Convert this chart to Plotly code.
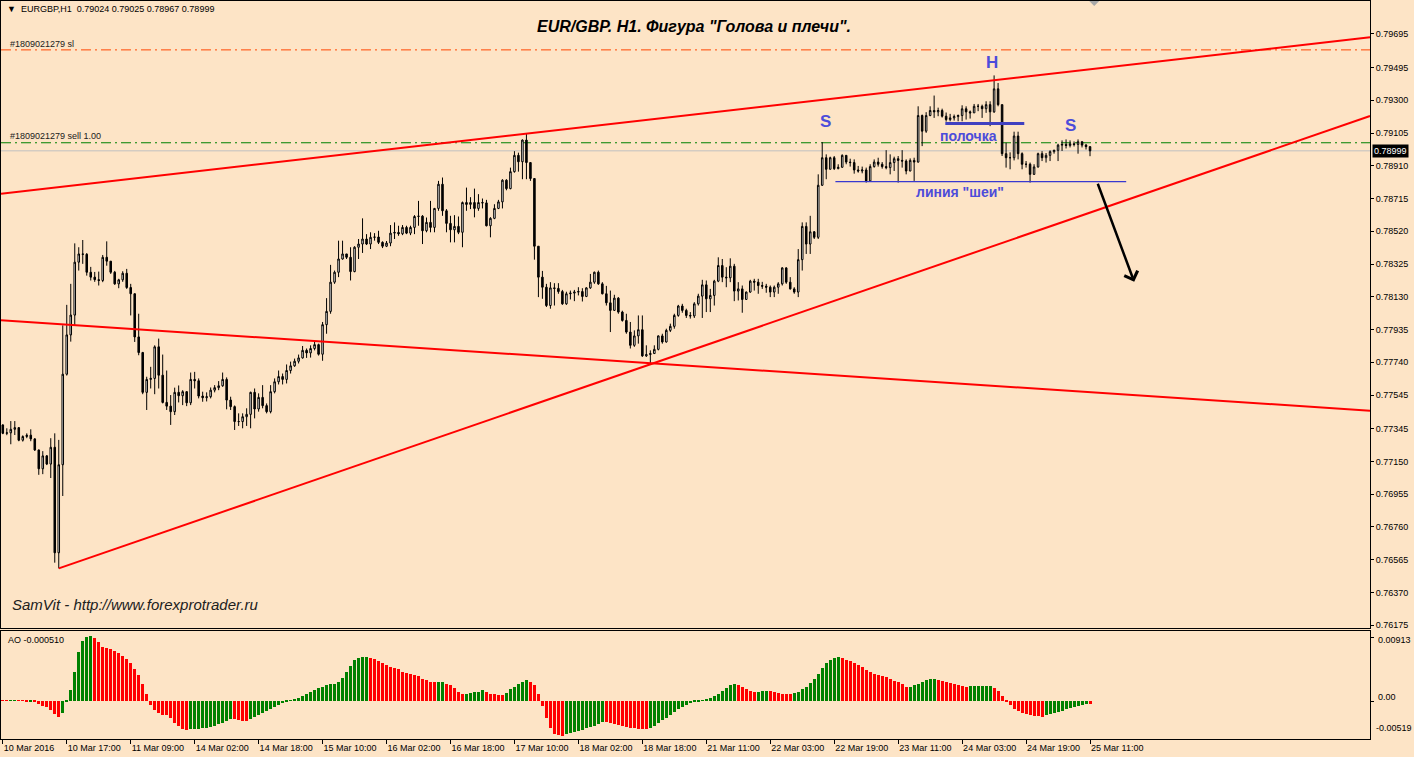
import plotly.graph_objects as go

W, H = 1414, 757
BG = "#FDE4C6"
FONT = "Liberation Sans, Arial, sans-serif"

# ---------------- data (prices in points, 1 point = 0.00001) ----------------
tick_labels = ["10 Mar 2016", "10 Mar 17:00", "11 Mar 09:00", "14 Mar 02:00", "14 Mar 18:00",
               "15 Mar 10:00", "16 Mar 02:00", "16 Mar 18:00", "17 Mar 10:00", "18 Mar 02:00",
               "18 Mar 18:00", "21 Mar 11:00", "22 Mar 03:00", "22 Mar 19:00", "23 Mar 11:00",
               "24 Mar 03:00", "24 Mar 19:00", "25 Mar 11:00"]
tick_bars = [0, 16, 32, 48, 64, 80, 96, 112, 128, 144, 160, 176, 192, 208, 224, 240, 256, 272]

price_ticks = [0.79695, 0.79495, 0.79300, 0.79105, 0.78910, 0.78715, 0.78520, 0.78325, 0.78130,
               0.77935, 0.77740, 0.77545, 0.77345, 0.77150, 0.76955, 0.76760, 0.76565, 0.76370, 0.76175]

close_pts = [
    77317, 77320, 77341, 77351, 77276, 77298, 77306, 77284, 77218, 77106,
    77183, 77134, 77234, 76606, 77130, 77669, 77903, 78021, 78336, 78385,
    78383, 78276, 78247, 78232, 78227, 78365, 78342, 78276, 78207, 78231,
    78270, 78185, 78148, 77891, 77798, 77561, 77638, 77644, 77832, 77663,
    77501, 77479, 77446, 77561, 77541, 77565, 77499, 77638, 77630, 77539,
    77529, 77535, 77574, 77589, 77600, 77638, 77515, 77476, 77387, 77387,
    77416, 77430, 77561, 77462, 77531, 77482, 77446, 77565, 77624, 77655,
    77638, 77691, 77719, 77746, 77766, 77811, 77796, 77822, 77845, 77788,
    77964, 78043, 78217, 78276, 78355, 78385, 78365, 78280, 78425, 78444,
    78474, 78444, 78484, 78486, 78454, 78431, 78450, 78509, 78513, 78505,
    78543, 78509, 78543, 78608, 78610, 78523, 78573, 78543, 78656, 78800,
    78642, 78567, 78529, 78549, 78514, 78691, 78680, 78691, 78656, 78691,
    78689, 78553, 78597, 78656, 78695, 78824, 78774, 78875, 78972, 78934,
    79063, 78929, 78834, 78431, 78247, 78187, 78078, 78183, 78180, 78161,
    78088, 78148, 78152, 78158, 78161, 78132, 78183, 78217, 78276, 78207,
    78148, 78094, 78049, 78122, 78039, 77989, 77920, 77841, 77897, 77934,
    77778, 77786, 77792, 77817, 77897, 77861, 77930, 77954, 78019, 78075,
    78049, 78019, 78016, 78088, 78134, 78201, 78118, 78138, 78223, 78316,
    78247, 78243, 78312, 78164, 78177, 78114, 78158, 78223, 78217, 78197,
    78193, 78187, 78158, 78187, 78207, 78302, 78217, 78177, 78158, 78351,
    78549, 78444, 78517, 78484, 78794, 78958, 78889, 78958, 78893, 78901,
    78972, 78932, 78929, 78885, 78879, 78885, 78820, 78905, 78932, 78919,
    78905, 78899, 78929, 78952, 78942, 78938, 78879, 78942, 78932, 79209,
    79116, 79209, 79239, 79231, 79239, 79205, 79185, 79195, 79203, 79209,
    79249, 79231, 79225, 79264, 79264, 79250, 79274, 79231, 79368, 79274,
    78982, 78958, 78958, 79087, 78982, 78919, 78919, 78859, 78903, 78982,
    78958, 78972, 78994, 79002, 79033, 79037, 79031, 79041, 79037, 79053,
    79033, 79024, 78999]

open_pts = [
    77367, 77317, 77320, 77341, 77351, 77276, 77298, 77306, 77284, 77218,
    77106, 77183, 77134, 77234, 76606, 77130, 77669, 77903, 78021, 78336,
    78385, 78383, 78276, 78247, 78232, 78227, 78365, 78342, 78276, 78207,
    78231, 78270, 78185, 78148, 77891, 77798, 77561, 77638, 77644, 77832,
    77663, 77501, 77479, 77446, 77561, 77541, 77565, 77499, 77638, 77630,
    77539, 77529, 77535, 77574, 77589, 77600, 77638, 77515, 77476, 77387,
    77387, 77416, 77430, 77561, 77462, 77531, 77482, 77446, 77565, 77624,
    77655, 77638, 77691, 77719, 77746, 77766, 77811, 77796, 77822, 77845,
    77788, 77964, 78043, 78217, 78276, 78355, 78385, 78365, 78280, 78425,
    78444, 78474, 78444, 78484, 78486, 78454, 78431, 78450, 78509, 78513,
    78505, 78543, 78509, 78543, 78608, 78610, 78523, 78573, 78543, 78656,
    78800, 78642, 78567, 78529, 78549, 78514, 78691, 78680, 78691, 78656,
    78691, 78689, 78553, 78597, 78656, 78695, 78824, 78774, 78875, 78972,
    78934, 79063, 78929, 78834, 78431, 78247, 78187, 78078, 78183, 78180,
    78161, 78088, 78148, 78152, 78158, 78161, 78132, 78183, 78217, 78276,
    78207, 78148, 78094, 78049, 78122, 78039, 77989, 77920, 77841, 77897,
    77934, 77778, 77786, 77792, 77817, 77897, 77861, 77930, 77954, 78019,
    78075, 78049, 78019, 78016, 78088, 78134, 78201, 78118, 78138, 78223,
    78316, 78247, 78243, 78312, 78164, 78177, 78114, 78158, 78223, 78217,
    78197, 78193, 78187, 78158, 78187, 78207, 78302, 78217, 78177, 78158,
    78351, 78549, 78444, 78517, 78484, 78794, 78958, 78889, 78958, 78893,
    78901, 78972, 78932, 78929, 78885, 78879, 78885, 78820, 78905, 78932,
    78919, 78905, 78899, 78929, 78952, 78942, 78938, 78879, 78942, 78932,
    79209, 79116, 79209, 79239, 79231, 79239, 79205, 79185, 79195, 79203,
    79209, 79249, 79231, 79225, 79264, 79264, 79250, 79274, 79231, 79368,
    79274, 78982, 78958, 78958, 79087, 78982, 78919, 78919, 78859, 78903,
    78982, 78958, 78972, 78994, 79002, 79033, 79037, 79031, 79041, 79037,
    79053, 79033, 79024]

high_pts = [
    77371, 77347, 77390, 77390, 77353, 77305, 77317, 77341, 77288, 77220,
    77211, 77187, 77288, 77317, 77278, 77960, 78082, 78207, 78448, 78425,
    78468, 78390, 78308, 78278, 78280, 78379, 78460, 78343, 78284, 78237,
    78282, 78296, 78207, 78150, 78029, 77802, 77654, 77713, 77841, 77881,
    77786, 77691, 77545, 77589, 77602, 77574, 77568, 77679, 77683, 77644,
    77565, 77561, 77590, 77604, 77628, 77679, 77650, 77535, 77483, 77436,
    77436, 77466, 77565, 77584, 77555, 77604, 77495, 77604, 77644, 77691,
    77673, 77727, 77744, 77762, 77786, 77837, 77822, 77841, 77865, 77851,
    77980, 78122, 78320, 78286, 78464, 78464, 78385, 78425, 78431, 78474,
    78597, 78503, 78514, 78509, 78523, 78460, 78462, 78557, 78573, 78553,
    78557, 78553, 78553, 78616, 78701, 78616, 78602, 78701, 78659, 78820,
    78840, 78652, 78612, 78616, 78608, 78697, 78780, 78723, 78774, 78741,
    78715, 78707, 78604, 78681, 78707, 78830, 78830, 78899, 78997, 78988,
    79067, 79102, 78929, 78834, 78431, 78284, 78207, 78217, 78211, 78211,
    78171, 78160, 78167, 78171, 78187, 78181, 78187, 78266, 78280, 78286,
    78217, 78195, 78167, 78142, 78128, 78047, 78029, 77980, 77930, 78019,
    78019, 77841, 77811, 77841, 77900, 77910, 77940, 77970, 78029, 78082,
    78088, 78059, 78039, 78098, 78148, 78231, 78227, 78177, 78231, 78365,
    78355, 78306, 78359, 78326, 78217, 78197, 78161, 78231, 78237, 78237,
    78219, 78207, 78197, 78197, 78217, 78306, 78306, 78247, 78187, 78414,
    78573, 78573, 78612, 78521, 78859, 79051, 78978, 78964, 78968, 78919,
    78978, 78972, 78952, 78948, 78909, 78905, 78899, 78919, 78948, 78958,
    78932, 79003, 78978, 78964, 78968, 79003, 78948, 78954, 78958, 79264,
    79215, 79229, 79264, 79328, 79256, 79250, 79227, 79219, 79215, 79215,
    79270, 79264, 79239, 79278, 79278, 79274, 79294, 79294, 79448, 79403,
    79274, 79047, 78990, 79113, 79113, 78990, 78938, 78929, 78919, 78988,
    78997, 78986, 79002, 79006, 79041, 79061, 79067, 79061, 79055, 79067,
    79055, 79040, 79025]

low_pts = [
    77312, 77306, 77252, 77307, 77270, 77268, 77288, 77270, 77212, 77070,
    77074, 77128, 77051, 76547, 76513, 76944, 77661, 77863, 77960, 78286,
    78326, 78256, 78227, 78219, 78197, 78217, 78315, 78266, 78201, 78181,
    78219, 78177, 78019, 77861, 77782, 77550, 77456, 77584, 77550, 77584,
    77495, 77456, 77367, 77426, 77501, 77485, 77479, 77485, 77584, 77525,
    77505, 77507, 77525, 77561, 77574, 77594, 77460, 77456, 77337, 77361,
    77347, 77361, 77347, 77406, 77446, 77466, 77436, 77436, 77555, 77608,
    77608, 77614, 77673, 77713, 77733, 77762, 77766, 77768, 77811, 77780,
    77749, 77910, 78029, 78207, 78247, 78351, 78355, 78227, 78276, 78355,
    78391, 78438, 78414, 78464, 78444, 78420, 78426, 78431, 78474, 78493,
    78497, 78503, 78497, 78503, 78553, 78444, 78514, 78514, 78514, 78642,
    78612, 78514, 78454, 78454, 78503, 78425, 78642, 78652, 78603, 78642,
    78656, 78549, 78484, 78592, 78652, 78656, 78764, 78770, 78869, 78875,
    78830, 78830, 78820, 78351, 78128, 78118, 78069, 78059, 78078, 78148,
    78082, 78082, 78114, 78104, 78138, 78102, 78128, 78177, 78207, 78201,
    78144, 78078, 77920, 78047, 78029, 77982, 77910, 77822, 77832, 77851,
    77772, 77772, 77733, 77792, 77811, 77851, 77857, 77920, 77940, 78011,
    78035, 78004, 78000, 78004, 78078, 78004, 78039, 78039, 78078, 78217,
    78217, 78187, 78217, 78104, 78108, 78035, 78114, 78154, 78167, 78148,
    78177, 78154, 78128, 78128, 78148, 78197, 78207, 78173, 78148, 78128,
    78286, 78385, 78385, 78474, 78474, 78790, 78830, 78889, 78885, 78889,
    78899, 78919, 78905, 78863, 78869, 78865, 78810, 78820, 78899, 78905,
    78893, 78889, 78859, 78879, 78810, 78899, 78859, 78877, 78820, 78929,
    79027, 79106, 79205, 79195, 79205, 79197, 79173, 79175, 79179, 79175,
    79175, 79185, 79191, 79225, 79235, 79195, 79225, 79146, 79225, 79264,
    78968, 78899, 78889, 78942, 78948, 78889, 78899, 78810, 78855, 78899,
    78938, 78929, 78938, 78982, 78938, 78998, 79013, 79019, 79025, 78982,
    79019, 79007, 78967]

# Awesome Oscillator histogram, units of 0.00001
ao_pts = [
    -2, -3, -1, 8, -3, -5, -16, -10, -26, -52,
    -73, -98, -130, -186, -228, -171, -26, 155, 404, 699,
    855, 912, 927, 901, 839, 772, 756, 746, 710, 679,
    637, 596, 539, 451, 373, 233, 88, -57, -130, -181,
    -202, -212, -249, -316, -368, -404, -420, -414, -409, -404,
    -399, -389, -373, -357, -337, -316, -290, -264, -269, -285,
    -290, -295, -259, -233, -207, -176, -150, -119, -93, -67,
    -41, -21, -5, 16, 41, 73, 98, 124, 150, 181,
    202, 218, 233, 243, 269, 321, 409, 502, 580, 616,
    627, 632, 606, 591, 570, 539, 513, 487, 461, 451,
    414, 399, 383, 368, 347, 306, 295, 269, 264, 267,
    269, 243, 218, 181, 124, 88, 98, 109, 124, 130,
    150, 124, 98, 88, 78, 75, 109, 166, 192, 233,
    269, 295, 269, 218, 98, -78, -249, -394, -482, -497,
    -508, -482, -466, -451, -435, -420, -399, -378, -357, -337,
    -306, -311, -321, -337, -352, -368, -383, -394, -399, -404,
    -407, -409, -394, -363, -326, -285, -243, -202, -161, -119,
    -88, -62, -41, -26, -16, -5, 10, 36, 67, 98,
    140, 181, 218, 243, 228, 192, 161, 140, 119, 130,
    140, 142, 140, 124, 109, 98, 96, 93, 109, 130,
    161, 202, 254, 316, 389, 461, 534, 585, 611, 622,
    606, 585, 565, 544, 513, 477, 440, 409, 383, 363,
    352, 342, 316, 285, 264, 233, 192, 202, 223, 243,
    269, 295, 306, 311, 295, 280, 264, 249, 233, 218,
    207, 202, 205, 207, 208, 210, 212, 215, 181, 140,
    62, -16, -67, -119, -150, -171, -192, -207, -218, -223,
    -228, -212, -197, -181, -161, -145, -124, -109, -93, -78,
    -62, -49, -51]

# trend lines / objects: (bar index, price in points)
upper_line_bar = [-0.45, 342.05]
upper_line_pts = [78744, 79675]
rising_line_bar = [14, 342.05]
rising_line_pts = [76513, 79206]
falling_line_bar = [-0.45, 342.05]
falling_line_pts = [77990, 77452]
neck_bar = [208.3, 281.05]
neck_pts = [78816, 78816]
shelf_bar = [235.8, 255.55]
shelf_pts = [79162, 79162]
arrow_tail = (273.8, 78812)
arrow_head = (283.05, 78219)
sl_price = 0.79600
entry_price = 0.79047
bid_price = 0.78999

# ---------------- build ----------------
K = 1e-5
bars = list(range(len(close_pts)))
o = [v * K for v in open_pts]
h = [v * K for v in high_pts]
l = [v * K for v in low_pts]
c = [v * K for v in close_pts]
ao = [v * K for v in ao_pts]
ao_colors = ["#FF0000"] + ["#008000" if ao[i] > ao[i - 1] else "#FF0000" for i in range(1, len(ao))]

X_RANGE = [-0.45, 342.05]
X_DOM = [0, 1370 / W]
Y_MAIN = [0.76161, 0.79891]
Y_AO = [-0.005445, 0.009989]

def px(x):
    return x / W

def py(y):
    return 1 - y / H

fig = go.Figure()

fig.add_trace(go.Candlestick(
    x=bars, open=o, high=h, low=l, close=c,
    increasing=dict(line=dict(color="black", width=1), fillcolor="white"),
    decreasing=dict(line=dict(color="black", width=1), fillcolor="black"),
    whiskerwidth=0, xaxis="x", yaxis="y", showlegend=False, hoverinfo="skip"))

for bx, pp, wd, col in [(upper_line_bar, upper_line_pts, 2, "#FF0000"),
                        (rising_line_bar, rising_line_pts, 2, "#FF0000"),
                        (falling_line_bar, falling_line_pts, 2, "#FF0000"),
                        (neck_bar, neck_pts, 1.2, "#3838D0"),
                        (shelf_bar, shelf_pts, 3, "#4040C0")]:
    fig.add_trace(go.Scatter(x=bx, y=[v * K for v in pp], mode="lines",
                             line=dict(color=col, width=wd), xaxis="x", yaxis="y",
                             showlegend=False, hoverinfo="skip"))

fig.add_trace(go.Bar(x=bars, y=ao, marker=dict(color=ao_colors, line=dict(width=0)),
                     width=0.75, xaxis="x2", yaxis="y2", showlegend=False, hoverinfo="skip"))

shapes = [
    dict(type="line", xref="x", yref="y", x0=X_RANGE[0], x1=X_RANGE[1], y0=sl_price, y1=sl_price,
         line=dict(color="#FF4500", width=1, dash="10px,4px,2px,4px"), layer="below"),
    dict(type="line", xref="x", yref="y", x0=X_RANGE[0], x1=X_RANGE[1], y0=entry_price, y1=entry_price,
         line=dict(color="#008000", width=1, dash="10px,4px,2px,4px"), layer="below"),
    dict(type="line", xref="x", yref="y", x0=X_RANGE[0], x1=X_RANGE[1], y0=bid_price, y1=bid_price,
         line=dict(color="#C0C0C0", width=1), layer="below"),
    # small grey chart-shift marker at top
    dict(type="path", xref="paper", yref="paper",
         path=f"M {px(1089)},{py(1)} L {px(1099)},{py(1)} L {px(1094)},{py(6)} Z",
         fillcolor="#A8A8A8", line=dict(width=0)),
]

blue = "#4C4CDA"
ann = [
    dict(text='<b><i>EUR/GBP. H1. Фигура "Голова и плечи".</i></b>', x=px(693), y=py(27),
         xref="paper", yref="paper", showarrow=False,
         font=dict(family=FONT, size=16, color="black"), xanchor="center", yanchor="middle"),
    dict(text="\u25BC  EURGBP,H1  0.79024 0.79025 0.78967 0.78999", x=px(4), y=py(9), xref="paper", yref="paper",
         showarrow=False, font=dict(family=FONT, size=9, color="black"), xanchor="left", yanchor="middle"),
    dict(text="#1809021279 sl", x=px(7), y=py(44), xref="paper", yref="paper",
         showarrow=False, font=dict(family=FONT, size=9, color="#202020"), xanchor="left", yanchor="middle"),
    dict(text="#1809021279 sell 1.00", x=px(7), y=py(137), xref="paper", yref="paper",
         showarrow=False, font=dict(family=FONT, size=9, color="#202020"), xanchor="left", yanchor="middle"),
    dict(text="<i>SamVit - http://www.forexprotrader.ru</i>", x=px(9), y=py(607), xref="paper", yref="paper",
         showarrow=False, font=dict(family=FONT, size=15, color="#202020"), xanchor="left", yanchor="middle"),
    dict(text="<b>S</b>", x=px(825), y=py(122), xref="paper", yref="paper", showarrow=False,
         font=dict(family=FONT, size=17, color=blue), xanchor="center", yanchor="middle"),
    dict(text="<b>H</b>", x=px(992), y=py(63), xref="paper", yref="paper", showarrow=False,
         font=dict(family=FONT, size=17, color=blue), xanchor="center", yanchor="middle"),
    dict(text="<b>S</b>", x=px(1070), y=py(126), xref="paper", yref="paper", showarrow=False,
         font=dict(family=FONT, size=17, color=blue), xanchor="center", yanchor="middle"),
    dict(text="<b>полочка</b>", x=px(968), y=py(137), xref="paper", yref="paper", showarrow=False,
         font=dict(family=FONT, size=14, color=blue), xanchor="center", yanchor="middle"),
    dict(text='<b>линия "шеи"</b>', x=px(960), y=py(193), xref="paper", yref="paper", showarrow=False,
         font=dict(family=FONT, size=14, color=blue), xanchor="center", yanchor="middle"),
    dict(text="AO -0.000510", x=px(5), y=py(643), xref="paper", yref="paper", showarrow=False,
         font=dict(family=FONT, size=9, color="black"), xanchor="left", yanchor="middle"),
    dict(text="0.00913", x=px(1376), y=py(643), xref="paper", yref="paper", showarrow=False,
         font=dict(family=FONT, size=9, color="black"), xanchor="left", yanchor="middle"),
    dict(text="0.00", x=px(1376), y=py(700), xref="paper", yref="paper", showarrow=False,
         font=dict(family=FONT, size=9, color="black"), xanchor="left", yanchor="middle"),
    dict(text="-0.00519", x=px(1374), y=py(731), xref="paper", yref="paper", showarrow=False,
         font=dict(family=FONT, size=9, color="black"), xanchor="left", yanchor="middle"),
    dict(text="0.78999", x=px(1372), y=bid_price, xref="paper", yref="y", showarrow=False,
         font=dict(family=FONT, size=9, color="white"), bgcolor="black", borderpad=1,
         xanchor="left", yanchor="middle"),
    dict(x=arrow_head[0], y=arrow_head[1] * K, ax=arrow_tail[0], ay=arrow_tail[1] * K,
         xref="x", yref="y", axref="x", ayref="y", showarrow=True, text="",
         arrowhead=4, arrowsize=1.1, arrowwidth=2.5, arrowcolor="black"),
]

axis_font = dict(family=FONT, size=9, color="black")
fig.update_layout(
    width=W, height=H, margin=dict(l=0, r=0, t=0, b=0),
    paper_bgcolor=BG, plot_bgcolor=BG, showlegend=False,
    boxgap=0.45, bargap=0, hovermode=False,
    xaxis=dict(domain=X_DOM, range=X_RANGE, anchor="y", showticklabels=False, showgrid=False,
               zeroline=False, showline=True, linecolor="black", linewidth=1, mirror=True,
               ticks="", rangeslider=dict(visible=False)),
    yaxis=dict(domain=[1 - 630 / H, 1 - 1 / H], range=Y_MAIN, anchor="x", side="right",
               tickvals=price_ticks, ticktext=[f"{v:.5f}" for v in price_ticks],
               ticks="outside", ticklen=3, tickcolor="black", tickfont=axis_font,
               showgrid=False, zeroline=False, showline=True, linecolor="black", mirror=True),
    xaxis2=dict(domain=X_DOM, range=X_RANGE, anchor="y2", matches="x",
                tickvals=tick_bars, ticktext=tick_labels, ticks="outside", ticklen=4,
                tickcolor="black", tickfont=axis_font, ticklabelposition="outside right",
                showgrid=False, zeroline=False, showline=True, linecolor="black", mirror=True),
    yaxis2=dict(domain=[1 - 742 / H, 1 - 634 / H], range=Y_AO, anchor="x2", side="right",
                showticklabels=False, tickvals=[0.00913, 0.0], ticks="outside", ticklen=3,
                tickcolor="black", showgrid=False, zeroline=False, showline=True,
                linecolor="black", mirror=True),
    shapes=shapes, annotations=ann,
)

fig.write_html("out.html", config={"displayModeBar": False},
               post_script="document.body.style.margin='0';document.body.style.overflow='hidden';")
